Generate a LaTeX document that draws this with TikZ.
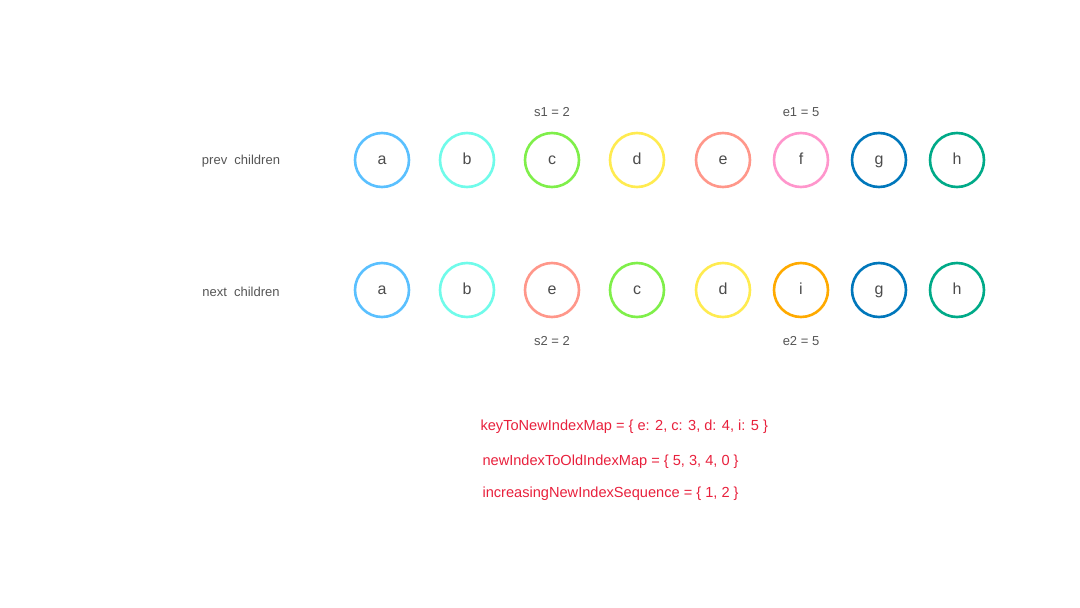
\documentclass[tikz,border=0pt]{standalone}
\usepackage{fontspec}
\setmainfont{Liberation Sans}
\definecolor{ca}{HTML}{5AC0FF}
\definecolor{cb}{HTML}{70FBEA}
\definecolor{cc}{HTML}{7FEF4A}
\definecolor{cd}{HTML}{FFEB50}
\definecolor{ce}{HTML}{FF978A}
\definecolor{cf}{HTML}{FF96CC}
\definecolor{cg}{HTML}{0077BB}
\definecolor{ch}{HTML}{00AA88}
\definecolor{ci}{HTML}{FFAA00}
\definecolor{lbl}{HTML}{555555}
\definecolor{redtxt}{HTML}{E8203C}
\begin{document}
\begin{tikzpicture}[x=1pt,y=-1pt,
  kid/.style={circle,draw=#1,line width=2.6pt,minimum size=54pt,inner sep=0pt,
    font=\fontsize{16}{16}\selectfont,text=black!70,text height=10.4pt,text depth=1pt},
  lab/.style={font=\fontsize{13}{13}\selectfont,text=lbl},
  red/.style={font=\fontsize{14.6}{14.6}\selectfont,text=redtxt,anchor=west}]
\useasboundingbox (0,0) rectangle (1080,608);
\node[lab] (prev) at (241,161) {prev\ \ children};
\node[lab] (next) at (241,292) {next\ \ children};
\node[kid=ca] (pa) at (382,160) {a};
\node[kid=cb] (pb) at (467,160) {b};
\node[kid=cc] (pc) at (552,160) {c};
\node[kid=cd] (pd) at (637,160) {d};
\node[kid=ce] (pe) at (723,160) {e};
\node[kid=cf] (pf) at (801,160) {f};
\node[kid=cg] (pg) at (879,160) {g};
\node[kid=ch] (ph) at (957,160) {h};
\node[kid=ca] (na) at (382,290) {a};
\node[kid=cb] (nb) at (467,290) {b};
\node[kid=ce] (ne) at (552,290) {e};
\node[kid=cc] (nc) at (637,290) {c};
\node[kid=cd] (nd) at (723,290) {d};
\node[kid=ci] (ni) at (801,290) {i};
\node[kid=cg] (ng) at (879,290) {g};
\node[kid=ch] (nh) at (957,290) {h};
\node[lab] (s1) at (552,112) {s1 = 2};
\node[lab] (e1) at (801,112) {e1 = 5};
\node[lab] (s2) at (552,341) {s2 = 2};
\node[lab] (e2) at (801,341) {e2 = 5};
\node[red] (m1) at (477,427) {keyToNewIndexMap = \{ e: 2, c: 3, d: 4, i: 5 \}};
\node[red] (m2) at (479,462) {newIndexToOldIndexMap = \{ 5, 3, 4, 0 \}};
\node[red] (m3) at (479,494) {increasingNewIndexSequence = \{ 1, 2 \}};
\end{tikzpicture}
\end{document}
